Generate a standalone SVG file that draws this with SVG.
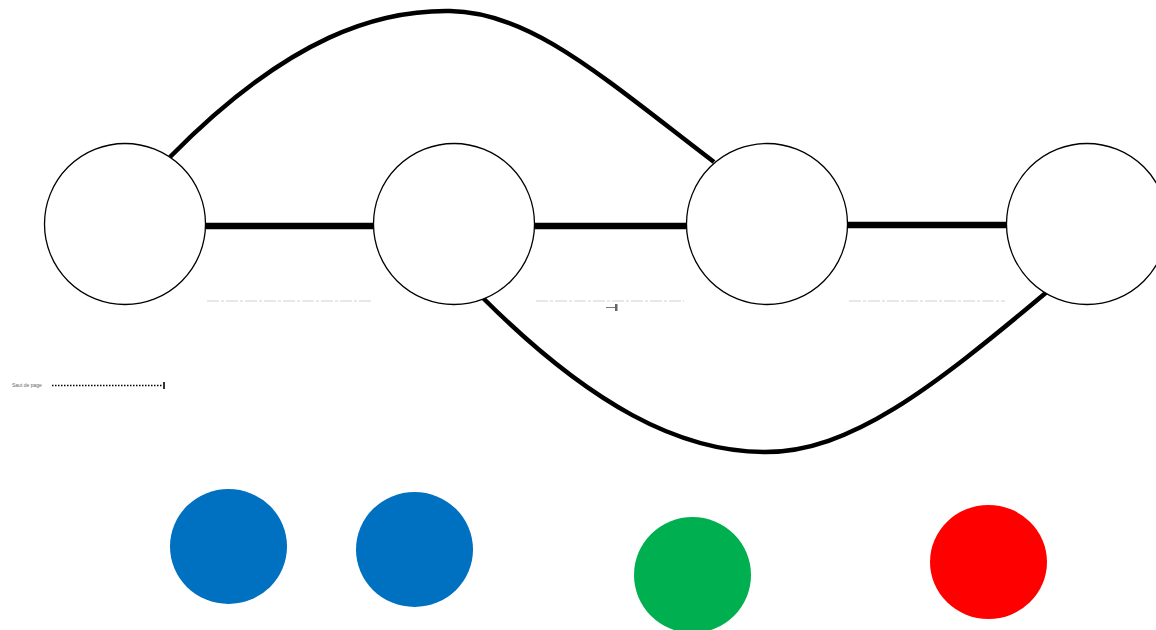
<svg xmlns="http://www.w3.org/2000/svg" width="1156" height="630" viewBox="0 0 1156 630">
<style>
.node{fill:#fff;stroke:#000;stroke-width:1.3}
.edge{fill:none;stroke:#000;stroke-linecap:butt}
.thick{stroke-width:6.5}
.curve{stroke-width:4.5}
.faint{stroke:#d0d0d0;stroke-width:1;stroke-dasharray:12 2 3 2}
.lbl{font-family:"Liberation Sans",Arial,sans-serif;font-size:5px;fill:#666}
</style>
<rect width="1156" height="630" fill="#fff"/>
<g id="connectors">
<path class="edge thick" d="M206,226 L373,226"/>
<path class="edge thick" d="M535,226 L686,226"/>
<path class="edge thick" d="M848,225 L1007,225"/>
<path class="edge curve" d="M170,157 C290,35 380,10 450,11 C530,12 600,75 714,162"/>
<path class="edge curve" d="M483,298 C590,405 680,452 765,452 C850,452 930,390 1048,291"/>
</g>
<g id="node1"><circle class="node" cx="125" cy="224" r="80.5"/></g>
<g id="node2"><circle class="node" cx="454" cy="224" r="80.5"/></g>
<g id="node3"><circle class="node" cx="767" cy="224" r="80.5"/></g>
<g id="node4"><circle class="node" cx="1087" cy="224" r="80.5"/></g>
<g id="marks">
<line class="faint" x1="207" y1="301" x2="372" y2="301"/>
<line class="faint" x1="536" y1="301" x2="684" y2="301"/>
<line class="faint" x1="849" y1="301" x2="1005" y2="301"/>
<line x1="606" y1="307.5" x2="615" y2="307.5" stroke="#555" stroke-width="0.8"/>
<rect x="615" y="304" width="2.5" height="7" fill="#666"/>
<text class="lbl" x="12" y="387">Saut de page</text>
<line x1="52" y1="385.5" x2="162" y2="385.5" stroke="#000" stroke-width="1.6" stroke-dasharray="1.5 1.5"/>
<rect x="163" y="382" width="2" height="7" fill="#333"/>
</g>
<g id="blue1"><ellipse cx="228.5" cy="546.5" rx="58.5" ry="57.5" fill="#0070C0"/></g>
<g id="blue2"><ellipse cx="414.5" cy="549.5" rx="58.5" ry="57.5" fill="#0070C0"/></g>
<g id="green"><ellipse cx="692.5" cy="575" rx="58.5" ry="58" fill="#00B050"/></g>
<g id="red"><ellipse cx="988.5" cy="562" rx="58.5" ry="57" fill="#FF0000"/></g>
</svg>
